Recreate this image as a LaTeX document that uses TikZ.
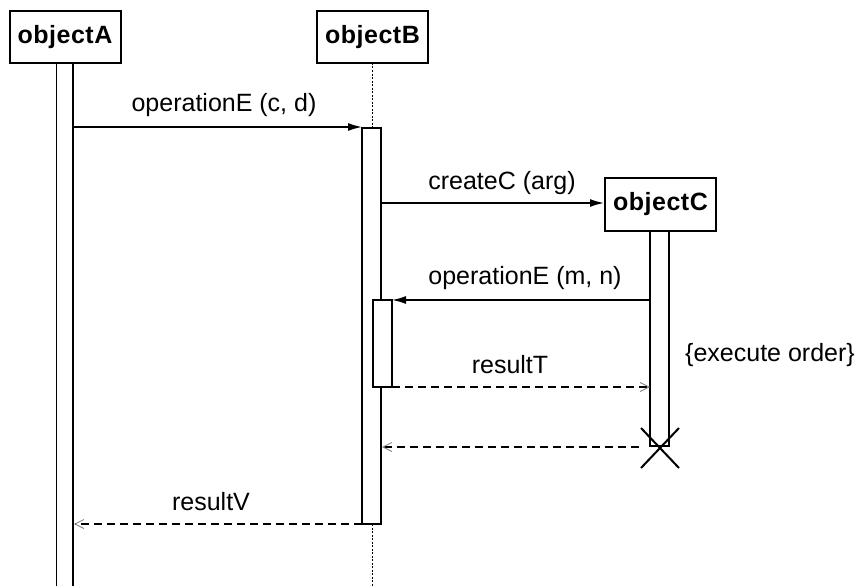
\documentclass[tikz,border=0pt]{standalone}
\usepackage{fontspec}
\setmainfont{Liberation Sans}
\usetikzlibrary{arrows.meta}

\begin{document}
\begin{tikzpicture}[x=1pt, y=-1pt, font=\fontsize{25}{30}\selectfont,
    obj/.style={draw, line width=2pt, minimum width=111pt, minimum height=52pt, font=\fontsize{25}{30}\selectfont\bfseries\addfontfeature{LetterSpace=2}},
    bar/.style={draw, line width=1.6pt, fill=white},
    life/.style={line width=0.9pt, dash pattern=on 2pt off 1.5pt},
    msg/.style={line width=1.5pt, -{Latex[length=14pt,width=8pt]}},
    ret/.style={line width=1.3pt, dash pattern=on 8pt off 5pt, -{Straight Barb[length=9pt,width=9pt,line width=0.8pt,color=gray]}}]
        \useasboundingbox (0,0) rectangle (859,586);
        \node[obj] (objA) at (65,37) {objectA};
        \node[obj] (objB) at (372.5,37) {objectB};
        \node[obj, minimum height=53pt] (objC) at (660.5,204.5) {objectC};
        % lifelines and activations
        \draw[line width=1.6pt] (56.5,63) -- (56.5,586) (73,63) -- (73,586);
        \draw[life] (372,63) -- (372,128) (372,524) -- (372,586);
        \draw[bar] (362,128) rectangle (381,524);
        \draw[bar] (373,300) rectangle (392,387);
        \draw[bar] (650,231) rectangle (669,446);
        \draw[line width=2pt] (641,428) -- (679,468) (641,468) -- (679,428);
        \coordinate (aOut) at (73,127);   \coordinate (bIn) at (362,127);
        \coordinate (bOut) at (381,203);
        \coordinate (cOut) at (650,300);  \coordinate (bIn2) at (392,300);
        \coordinate (bRet) at (392,387);  \coordinate (cIn) at (650,387);
        \coordinate (cEnd) at (639,447);  \coordinate (bIn3) at (382,447);
        \coordinate (bRet2) at (362,524); \coordinate (aIn) at (74,524);
        % messages
        \draw[msg] (aOut) -- (bIn);
        \draw[msg] (bOut) -- (bOut -| objC.west);
        \draw[msg] (cOut) -- (bIn2);
        \draw[ret] (bRet) -- (cIn);
        \draw[ret] (cEnd) -- (bIn3);
        \draw[ret] (bRet2) -- (aIn);
        \node (opCD) at (224,105) {operationE (c, d)};
        \node (crC) at (502,183) {createC (arg)};
        \node (opMN) at (525,278) {operationE (m, n)};
        \node (resT) at (510,365) {resultT};
        \node (resV) at (211,502) {resultV};
        \node[anchor=west, inner sep=0pt] (exec) at (685,355) {\{execute order\}};
    \end{tikzpicture}
\end{document}
